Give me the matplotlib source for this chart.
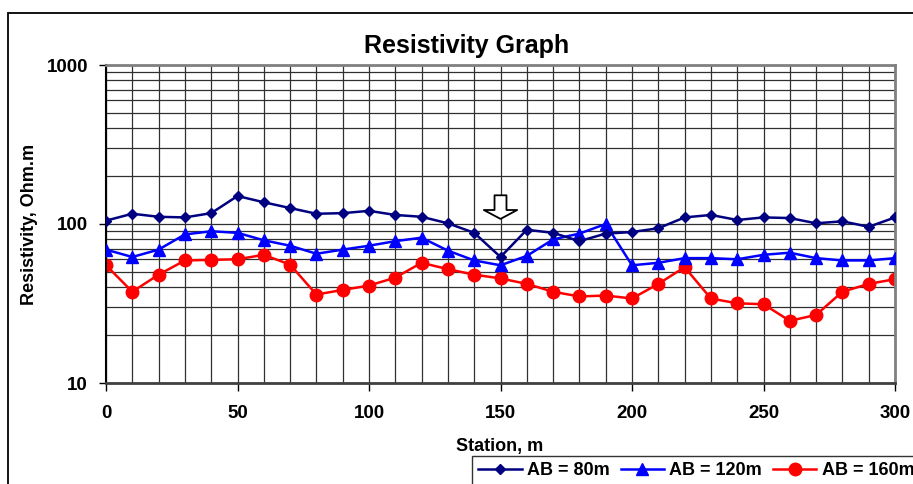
import numpy as np
import matplotlib
matplotlib.use('Agg')
import matplotlib.pyplot as plt
from matplotlib.patches import Rectangle
from matplotlib.ticker import FixedLocator, LogLocator, NullFormatter

plt.rcParams['font.family'] = ['Liberation Sans', 'DejaVu Sans']
plt.rcParams['font.weight'] = 'bold'

# station positions (m)
station = [0, 10, 20, 30, 40, 50, 60, 70, 80, 90, 100, 110, 120, 130, 140, 150,
           160, 170, 180, 190, 200, 210, 220, 230, 240, 250, 260, 270, 280, 290, 300]

# apparent resistivity (Ohm.m)
ab80 = [105, 116, 111, 110, 117, 150, 137, 126, 116, 117, 121, 114, 111, 101, 88, 62,
        92, 88, 78, 87, 89, 94, 110, 114, 106, 110, 109, 101, 104, 96, 110]
ab120 = [69, 62, 69, 86, 90, 88, 79, 73, 65, 69, 73, 78, 82, 68, 59, 55,
         63, 80, 87, 100, 55, 57, 61, 61, 60, 64, 66, 61, 59, 59, 61]
ab160 = [55, 37.5, 48, 59, 59.5, 60, 64, 55.5, 36, 38.5, 41, 46, 57, 52, 48, 45.5,
         42, 37.5, 35, 35.5, 34, 42, 53.5, 34, 31.7, 31.3, 24.6, 26.8, 37.5, 42, 45]

arrow_station = 150

fig = plt.figure(figsize=(9.13, 4.84), dpi=100)
ax = fig.add_axes([106/913, 1 - 383/484, (895 - 106)/913, (383 - 65)/484])

# outer chart frame (cut off at right/bottom like the screenshot)
fig.patches.append(Rectangle((8/913, -0.1), 1.2, 1 - 13/484 + 0.1, transform=fig.transFigure,
                             fill=False, edgecolor='black', linewidth=1.3, zorder=0))

ax.plot(station, ab80, color='#000080', marker='D', markersize=5, linewidth=1.8, label='AB = 80m', zorder=4)
ax.plot(station, ab120, color='#0000FF', marker='^', markersize=8, linewidth=1.8, label='AB = 120m', zorder=3)
ax.plot(station, ab160, color='#FF0000', marker='o', markersize=9, linewidth=1.8, label='AB = 160m', zorder=2)

ax.set_yscale('log')
ax.set_ylim(10, 1000)
ax.set_xlim(0, 300)
ax.xaxis.set_major_locator(FixedLocator([0, 50, 100, 150, 200, 250, 300]))
ax.xaxis.set_minor_locator(FixedLocator(np.arange(0, 301, 10)))
ax.yaxis.set_major_locator(FixedLocator([10, 100, 1000]))
ax.yaxis.set_minor_locator(LogLocator(base=10, subs=np.arange(2, 10)))
ax.yaxis.set_minor_formatter(NullFormatter())
ax.set_yticklabels(['10', '100', '1000'])

ax.grid(True, which='both', color='#303030', linewidth=0.9)
ax.tick_params(which='minor', length=0)
ax.tick_params(axis='x', which='major', direction='out', length=6, width=1, pad=10, labelsize=13.5)
ax.tick_params(axis='y', which='major', direction='out', length=5, width=1, pad=8, labelsize=13.5)
for lbl in ax.get_xticklabels() + ax.get_yticklabels():
    lbl.set_fontweight('bold')

for side in ['top', 'right']:
    ax.spines[side].set_color('#808080')
    ax.spines[side].set_linewidth(2)
ax.spines['left'].set_linewidth(1.5)
ax.spines['bottom'].set_color('#404040')
ax.spines['bottom'].set_linewidth(2)

fig.text(467/913, 1 - 53/484, 'Resistivity Graph', ha='center', va='baseline', fontsize=18, fontweight='bold')
fig.text(500/913, 1 - 447/484, 'Station, m', ha='center', va='center', fontsize=13, fontweight='bold')
fig.text(30/913, 1 - 224/484, 'Resistivity, Ohm.m', ha='center', va='center', rotation=90,
         fontsize=13, fontweight='bold')

# hollow arrow marking the anomaly
ax.annotate('', xy=(arrow_station, 0.516), xycoords=('data', 'axes fraction'),
            xytext=(0, 17), textcoords='offset points',
            arrowprops=dict(arrowstyle='simple,head_length=0.32,head_width=1.2,tail_width=0.43',
                            mutation_scale=20, fc='white', ec='black', lw=1.3,
                            shrinkA=0, shrinkB=0), zorder=6)

leg = fig.legend(loc='upper left', bbox_to_anchor=(472/913, 1 - 456/484), ncol=3,
                 frameon=True, fancybox=False, edgecolor='black', borderaxespad=0,
                 handlelength=2.4, columnspacing=0.6, handletextpad=0.3, borderpad=0.35,
                 prop={'weight': 'bold', 'size': 13})
leg.get_frame().set_linewidth(1)

fig.savefig('out.png', dpi=100)
